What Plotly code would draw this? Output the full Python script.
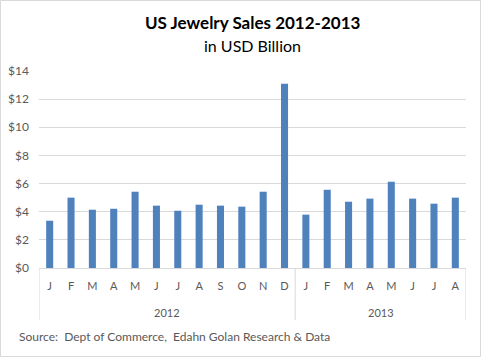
import plotly.graph_objects as go

Z = "\u200b"  # zero-width space keeps repeated month letters as distinct categories
months = ["J", "F", "M", "A", "M" + Z, "J" + Z, "J" + Z * 2, "A" + Z, "S", "O", "N", "D",
          "J" + Z * 3, "F" + Z, "M" + Z * 2, "A" + Z * 2, "M" + Z * 3, "J" + Z * 4,
          "J" + Z * 5, "A" + Z * 3]
sales = [3.36, 5.0, 4.14, 4.21, 5.42, 4.43, 4.07, 4.5, 4.43, 4.36, 5.42, 13.1,
         3.79, 5.56, 4.71, 4.93, 6.13, 4.93, 4.57, 5.0]
year_labels = ["2012", "2013"]
year_start = [0, 12]
year_count = [12, 8]
yticks = [0, 2, 4, 6, 8, 10, 12, 14]
ytick_text = ["$" + str(v) for v in yticks]

W, H = 481, 357
ml, mr, mt, mb = 39, 15, 71, 89
pw = W - ml - mr
ph = H - mt - mb

fig = go.Figure(go.Bar(
    x=months, y=sales,
    marker=dict(color="#4F81BD", line=dict(width=0)),
))

fig.update_layout(
    width=W, height=H,
    margin=dict(l=ml, r=mr, t=mt, b=mb, pad=0, autoexpand=False),
    paper_bgcolor="white", plot_bgcolor="white",
    bargap=0.67,
    showlegend=False,
    font=dict(family="Lato, 'Open Sans', sans-serif", color="#595959", size=11),
)
fig.update_yaxes(
    range=[0, 14], tickvals=yticks, ticktext=ytick_text,
    showgrid=True, gridcolor="#d9d9d9", gridwidth=1,
    zeroline=False, showline=False, ticks="",
    tickfont=dict(size=12, color="#595959"),
    ticklabelstandoff=9, automargin=False,
)
fig.update_xaxes(
    type="category", range=[-0.5, len(months) - 0.5],
    showline=True, linecolor="#d9d9d9", linewidth=1,
    ticks="", tickfont=dict(size=11, color="#595959"),
    ticklabelstandoff=8, automargin=False,
)

# Year group labels and dividers
div_bottom = -(320 - (H - mb)) / ph
for lab, s, c in zip(year_labels, year_start, year_count):
    fig.add_annotation(text=lab, xref="x", yref="paper", x=s + (c - 1) / 2,
                       y=-(312 - (H - mb)) / ph, xanchor="center", yanchor="middle",
                       showarrow=False, font=dict(size=11, color="#595959"))
edges = [year_start[0] - 0.5] + [s + c - 0.5 for s, c in zip(year_start, year_count)]
for e in edges:
    fig.add_shape(type="line", xref="x", yref="paper", x0=e, x1=e, y0=0, y1=div_bottom,
                  line=dict(color="#d9d9d9", width=1))

# Title & subtitle
fig.add_annotation(text="<b>US Jewelry Sales 2012-2013</b>", xref="paper", yref="paper",
                   x=0.5, y=1 + (mt - 23) / ph, xanchor="center", yanchor="middle",
                   showarrow=False, font=dict(size=17, color="black", family="Lato, sans-serif"))
fig.add_annotation(text="in USD Billion", xref="paper", yref="paper",
                   x=0.5, y=1 + (mt - 46) / ph, xanchor="center", yanchor="middle",
                   showarrow=False, font=dict(size=16, color="black", family="Lato, sans-serif"))
# Source
fig.add_annotation(text="Source:  Dept of Commerce,  Edahn Golan Research & Data",
                   xref="paper", yref="paper",
                   x=(17 - ml) / pw, y=-(336 - (H - mb)) / ph, xanchor="left", yanchor="middle",
                   showarrow=False, font=dict(size=12, color="#595959"))
# Outer border
fig.add_shape(type="rect", xref="paper", yref="paper",
              x0=(0.5 - ml) / pw, x1=(W - 0.5 - ml) / pw,
              y0=-(mb - 0.5) / ph, y1=1 + (mt - 0.5) / ph,
              line=dict(color="#d9d9d9", width=1), fillcolor="rgba(0,0,0,0)", layer="below")

fig.write_html("out.html", config={"displayModeBar": False},
               post_script="document.body.style.margin='0';document.body.style.overflow='hidden';")
